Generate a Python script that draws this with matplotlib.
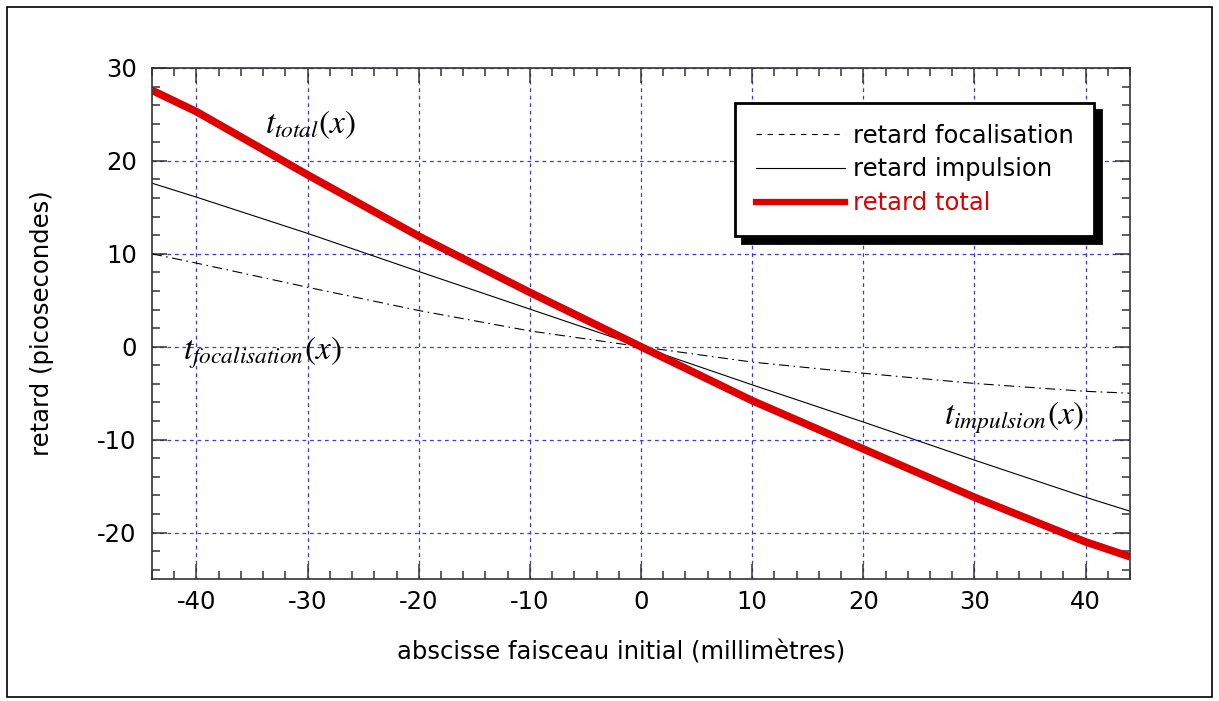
import numpy as np
import matplotlib
matplotlib.use('Agg')
from matplotlib import pyplot as plt
from matplotlib.lines import Line2D
from matplotlib.patches import Rectangle
from matplotlib.ticker import MultipleLocator

plt.rcParams['font.family'] = ['DejaVu Sans']
plt.rcParams['mathtext.fontset'] = 'stix'
plt.rcParams['axes.unicode_minus'] = False

# valeurs (mm -> ps)
x_mm = [-44, -40, -30, -20, -10, 0, 10, 20, 30, 40, 44]
retard_focalisation = [10.0, 9.0, 6.4, 3.9, 1.7, 0.0, -1.65, -2.85, -3.95, -4.8, -5.0]
retard_impulsion = [17.6, 16.1, 12.2, 8.1, 4.05, 0.0, -4.1, -8.1, -12.2, -16.2, -17.7]
retard_total = [27.6, 25.3, 18.5, 11.9, 5.85, 0.0, -5.8, -11.0, -16.2, -21.0, -22.6]

fig = plt.figure(figsize=(12.19, 7.01), dpi=100)
ax = fig.add_axes([0.1247, 0.174, 0.8023, 0.729])

ax.plot(x_mm, retard_focalisation, color='black', lw=0.8, dashes=(9, 4, 1.5, 4))
ax.plot(x_mm, retard_impulsion, color='black', lw=0.8)
ax.plot(x_mm, retard_total, color='#dd0000', lw=5.5, solid_capstyle='butt')

ax.set_xlim(-44, 44)
ax.set_ylim(-25, 30)
ax.xaxis.set_major_locator(MultipleLocator(10))
ax.xaxis.set_minor_locator(MultipleLocator(2))
ax.yaxis.set_major_locator(MultipleLocator(10))
ax.yaxis.set_minor_locator(MultipleLocator(2))
ax.grid(True, which='major', color='#3a3ae0', lw=0.9, dashes=(3, 3))
ax.set_axisbelow(True)

ax.tick_params(which='both', direction='in', top=True, right=True, color='#333333', width=1.1)
ax.tick_params(which='major', length=10.5, labelsize=17.5)
ax.tick_params(which='minor', length=6)
ax.tick_params(axis='x', pad=8)
ax.tick_params(axis='y', pad=11)
for s in ax.spines.values():
    s.set_color('#333333')
    s.set_linewidth(1.2)

ax.set_xlabel('abscisse faisceau initial (millimètres)', fontsize=17.5)
ax.set_ylabel('retard (picosecondes)', fontsize=17.5)
ax.xaxis.set_label_coords(0.48, -0.12)
ax.yaxis.set_label_coords(-0.1, 0.5)

# annotations
ax.text(-33.8, 23.9, r'$t_{total}(x)$', fontsize=24, va='center', ha='left')
ax.text(-41.2, -0.6, r'$t_{focalisation}(x)$', fontsize=24, va='center', ha='left')
ax.text(27.3, -7.6, r'$t_{impulsion}(x)$', fontsize=24, va='center', ha='left')

handles = [
    Line2D([], [], color='black', lw=0.8, dashes=(5, 5)),
    Line2D([], [], color='black', lw=0.8),
    Line2D([], [], color='#dd0000', lw=4.5),
]
leg = ax.legend(handles, ['retard focalisation', 'retard impulsion', 'retard total'],
                loc='upper left', bbox_to_anchor=(0.596, 0.9315), fontsize=17.5,
                handlelength=3.7, handletextpad=0.3, labelspacing=0.4,
                borderpad=0.85, borderaxespad=0, fancybox=False, framealpha=1,
                edgecolor='black', shadow={'ox': 5, 'oy': -5, 'color': 'black', 'alpha': 1})
leg.get_frame().set_linewidth(2)
leg.get_texts()[2].set_color('#dd0000')

fig.add_artist(Rectangle((0.006, 0.005), 0.988, 0.985, transform=fig.transFigure,
                         fill=False, edgecolor='black', lw=1.2))

plt.savefig('out.png', dpi=100)
